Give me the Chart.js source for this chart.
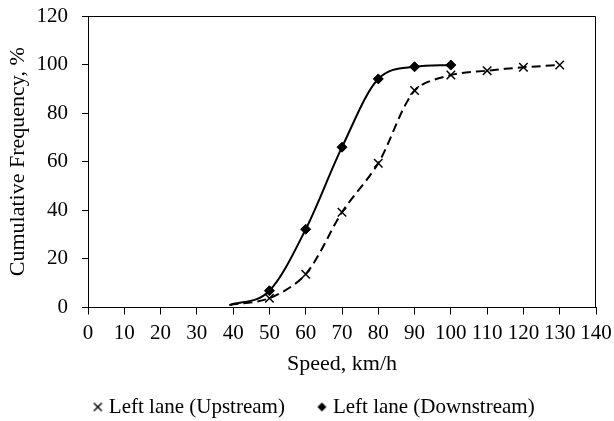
<!DOCTYPE html>
<html>
<head>
<meta charset="utf-8">
<script src="https://cdn.jsdelivr.net/npm/chart.js@4"></script>
<style>
html,body{margin:0;padding:0;background:#fff;}
#wrap{width:614px;height:421px;}
</style>
</head>
<body>
<div id="wrap"><canvas id="c" width="614" height="421"></canvas></div>
<script>
const upSpeed = [39, 50, 60, 70, 80, 90, 100, 110, 120, 130];
const upFreq  = [1, 3.8, 13.7, 39.2, 59.4, 89.3, 95.7, 97.5, 98.9, 99.8];
const downSpeed = [39, 50, 60, 70, 80, 90, 100];
const downFreq  = [1, 6.9, 32.2, 66, 94.1, 99.1, 99.8];
const xTicks = [0,10,20,30,40,50,60,70,80,90,100,110,120,130,140];
const yTicks = [0,20,40,60,80,100,120];
const seriesNames = ['Left lane (Upstream)', 'Left lane (Downstream)'];

const FONT = '"Liberation Serif", "Times New Roman", serif';

const toPts = (xs, ys) => xs.map((x, i) => ({x: x, y: ys[i]}));

function markerCanvas(kind) {
  const c = document.createElement('canvas');
  c.width = 11; c.height = 11;
  const g = c.getContext('2d');
  g.strokeStyle = '#000'; g.fillStyle = '#000';
  if (kind === 'cross') {
    g.lineWidth = 1.4;
    g.beginPath();
    g.moveTo(1.5, 1.5); g.lineTo(9.5, 9.5);
    g.moveTo(9.5, 1.5); g.lineTo(1.5, 9.5);
    g.stroke();
  } else {
    g.beginPath();
    g.moveTo(5.5, 1); g.lineTo(10, 5.5); g.lineTo(5.5, 10); g.lineTo(1, 5.5);
    g.closePath();
    g.fill();
  }
  return c;
}
const legendMarkers = [markerCanvas('cross'), markerCanvas('diamond')];

const boxPlugin = {
  id: 'box',
  afterDraw(chart) {
    const a = chart.chartArea, ctx = chart.ctx;
    ctx.save();
    ctx.strokeStyle = '#000';
    ctx.lineWidth = 1;
    ctx.beginPath();
    ctx.moveTo(a.left, Math.round(a.top) + 0.5);
    ctx.lineTo(Math.round(a.right) - 0.5, Math.round(a.top) + 0.5);
    ctx.lineTo(Math.round(a.right) - 0.5, a.bottom);
    ctx.stroke();
    ctx.restore();
  }
};

const PAD_L = 36;

new Chart(document.getElementById('c'), {
  type: 'scatter',
  data: {
    datasets: [
      {
        label: seriesNames[0],
        data: toPts(upSpeed, upFreq),
        showLine: true,
        borderColor: '#000',
        backgroundColor: '#000',
        borderWidth: 2,
        borderDash: [9, 5],
        tension: 0.3,
        pointStyle: 'crossRot',
        pointRadius: ctx => ctx.dataIndex === 0 ? 0 : 6,
        pointBorderWidth: 1.5,
        pointBorderColor: '#000'
      },
      {
        label: seriesNames[1],
        data: toPts(downSpeed, downFreq),
        showLine: true,
        borderColor: '#000',
        backgroundColor: '#000',
        borderWidth: 2,
        cubicInterpolationMode: 'monotone',
        pointStyle: 'rectRot',
        pointRadius: ctx => ctx.dataIndex === 0 ? 0 : 5,
        pointBorderWidth: 1,
        pointBackgroundColor: '#000',
        pointBorderColor: '#000'
      }
    ]
  },
  options: {
    responsive: false,
    animation: false,
    devicePixelRatio: 1,
    layout: {padding: {left: PAD_L, right: 18, top: 16, bottom: -6.5}},
    plugins: {
      tooltip: {enabled: false},
      legend: {
        position: 'bottom',
        labels: {
          usePointStyle: true,
          boxWidth: 1,
          boxHeight: 11,
          color: '#000',
          padding: 36.5,
          font: {family: FONT, size: 21},
          generateLabels(chart) {
            return chart.data.datasets.map((ds, i) => ({
              text: ds.label,
              fillStyle: '#000',
              strokeStyle: '#000',
              lineWidth: 1,
              pointStyle: legendMarkers[i],
              datasetIndex: i,
              hidden: false
            }));
          }
        }
      }
    },
    scales: {
      x: {
        type: 'linear',
        min: 0, max: 140,
        afterBuildTicks(scale) { scale.ticks = xTicks.map(v => ({value: v})); },
        afterFit(scale) { scale.height = 52.5; scale.paddingRight = 0; scale.paddingLeft = 0; },
        ticks: {color: '#000', font: {family: FONT, size: 21}, padding: 6, maxRotation: 0, autoSkip: false},
        grid: {display: true, drawOnChartArea: false, drawTicks: true, tickLength: 7, color: '#000'},
        border: {display: true, color: '#000', width: 1},
        title: {display: true, text: 'Speed, km/h', color: '#000', font: {family: FONT, size: 22}, padding: {top: 0, bottom: -17}}
      },
      y: {
        type: 'linear',
        min: 0, max: 120,
        afterBuildTicks(scale) { scale.ticks = yTicks.map(v => ({value: v})); },
        afterFit(scale) { scale.width = 88 - PAD_L; scale.paddingTop = 0; scale.paddingBottom = 0; },
        ticks: {color: '#000', font: {family: FONT, size: 21}, padding: 14},
        grid: {display: true, drawOnChartArea: false, drawTicks: true, tickLength: 6, color: '#000'},
        border: {display: true, color: '#000', width: 1},
        title: {display: true, text: 'Cumulative Frequency, %', color: '#000', font: {family: FONT, size: 22}, padding: {top: -31, bottom: 0}}
      }
    }
  },
  plugins: [boxPlugin]
});
</script>
</body>
</html>
